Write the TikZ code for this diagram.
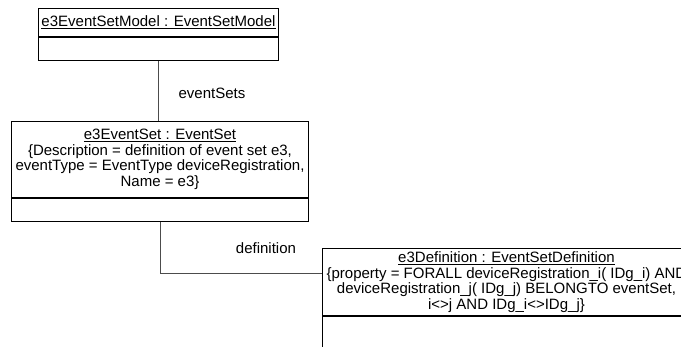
\documentclass[tikz,border=0pt]{standalone}
\usepackage{fontspec}
\setmainfont{Liberation Sans}
\usetikzlibrary{positioning}

\begin{document}
\begin{tikzpicture}[x=1pt,y=-1pt,
		obj/.style={draw,line width=1pt,align=center,inner xsep=2pt,inner ysep=0pt,font=\fontsize{15}{15.5}\selectfont},
		ops/.style={draw,line width=1pt,inner sep=0pt},
		link/.style={draw=black!70,line width=1pt},
		role/.style={inner sep=0pt,font=\fontsize{15}{15.5}\selectfont}]
	\useasboundingbox (0,0) rectangle (681,347);
	\clip (0,0) rectangle (681,347);
	%% define objects
	\node (model) at (38,8) [obj,anchor=north west,minimum width=240pt,minimum height=28pt] {\underline{e3EventSetModel : EventSetModel}};
	\node (modelops) [ops,below=0pt of model,minimum width=240pt,minimum height=23pt] {};
	\node (evset) at (11,121) [obj,anchor=north west,minimum width=297pt,minimum height=76pt] {\underline{e3EventSet : EventSet}\\ \{Description = definition of event set e3,\\ eventType = EventType deviceRegistration,\\ Name = e3\}};
	\node (evsetops) [ops,below=0pt of evset,minimum width=297pt,minimum height=23pt] {};
	\node (def) at (322,248) [obj,anchor=north west,minimum width=368pt,minimum height=67pt] {\underline{e3Definition : EventSetDefinition}\\ \{property = FORALL deviceRegistration\_i( IDg\_i) AND\\ deviceRegistration\_j( IDg\_j) BELONGTO eventSet,\\ i<>j AND IDg\_i<>IDg\_j\}};
	\node (defops) [ops,below=0pt of def,minimum width=368pt,minimum height=40pt] {};
	%% define links
	\draw[link] (modelops.south) -- (modelops.south |- evset.north);
	\node (sets) at (212,93) [role] {eventSets};
	\draw[link] (evsetops.south) |- ([yshift=-26pt]def.north west);
	\node (defrole) at (266,248) [role] {definition};
\end{tikzpicture}
\end{document}
